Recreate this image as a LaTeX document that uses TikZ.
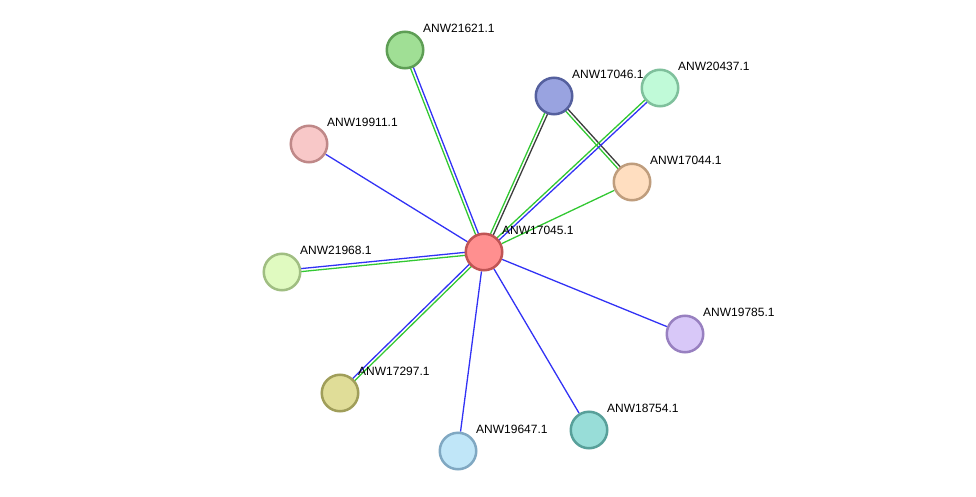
\documentclass[tikz,border=0pt]{standalone}
\usepackage{fontspec}
\setmainfont{Liberation Sans}
\usetikzlibrary{calc}
\pgfdeclarelayer{bg}
\pgfsetlayers{bg,main}
\definecolor{eblue}{RGB}{50,50,245}
\definecolor{egreen}{RGB}{50,200,50}
\definecolor{egray}{RGB}{60,60,60}
\tikzset{
  x=1pt,y=-1pt,
  prot/.style={circle,minimum size=36.5pt,inner sep=0pt,line width=2.5pt},
  lab/.style={anchor=base west,font=\fontsize{12}{14}\selectfont,inner sep=0pt,text=black},
  edge/.style={line width=1.3pt},
}
\newcommand{\prot}[6]{%
  \definecolor{f#1}{HTML}{#4}\definecolor{s#1}{HTML}{#5}%
  \node[prot,fill=f#1,draw=s#1] (#1) at (#2,#3) {};
  \node[lab] (l#1) at (#2+18,#3-17.5) {#6};
}
\newcommand{\single}[3]{\draw[edge,#3] (#1) -- (#2);}
\newcommand{\double}[4]{%
  \draw[edge,#3] ($(#1)!1.5pt!90:(#2)$) -- ($(#2)!1.5pt!-90:(#1)$);
  \draw[edge,#4] ($(#1)!1.5pt!-90:(#2)$) -- ($(#2)!1.5pt!90:(#1)$);
}
\begin{document}
\begin{tikzpicture}
\useasboundingbox (0,0) rectangle (976,497);
\prot{c}{484}{252}{FF8F8F}{C05454}{ANW17045.1}
\prot{a}{405}{50}{A0DF95}{5E9E55}{ANW21621.1}
\prot{b}{554}{96}{99A3E0}{55609E}{ANW17046.1}
\prot{d}{660}{88}{C0FAD8}{7FC09C}{ANW20437.1}
\prot{e}{632}{182}{FFDEC0}{BF9D7D}{ANW17044.1}
\prot{f}{309}{144}{F8C8C8}{BF8888}{ANW19911.1}
\prot{g}{282}{272}{E0FAC0}{A0BE82}{ANW21968.1}
\prot{h}{340}{393}{E0DD98}{A09E5A}{ANW17297.1}
\prot{i}{458}{451}{C0E6F8}{80A8C2}{ANW19647.1}
\prot{j}{589}{430}{98DDD8}{58A09A}{ANW18754.1}
\prot{k}{685}{334}{D8C8F8}{9880C0}{ANW19785.1}
\begin{pgfonlayer}{bg}
\double{c}{a}{egreen}{eblue}
\double{c}{b}{egreen}{egray}
\double{e}{b}{egreen}{egray}
\double{c}{d}{egreen}{eblue}
\single{c}{e}{egreen}
\single{c}{f}{eblue}
\double{c}{g}{egreen}{eblue}
\double{c}{h}{egreen}{eblue}
\single{c}{i}{eblue}
\single{c}{j}{eblue}
\single{c}{k}{eblue}
\end{pgfonlayer}
\end{tikzpicture}
\end{document}
